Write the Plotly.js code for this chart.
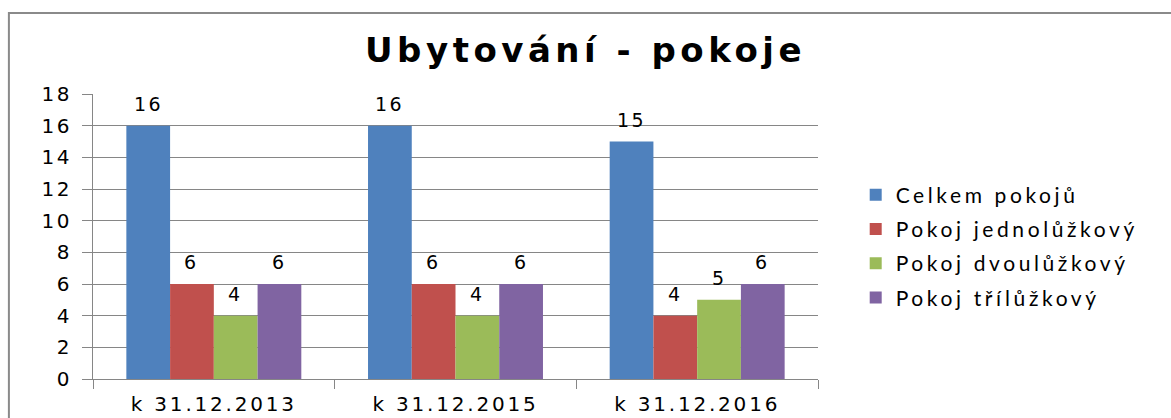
<!DOCTYPE html>
<html><head><meta charset="utf-8">
<script src="https://cdn.plot.ly/plotly-3.0.1.min.js"></script>
<style>
body{margin:0;background:#fff}
#chart{width:1171px;height:418px}
.gtitle{letter-spacing:4.5px}
.xtick text{letter-spacing:2.8px}
.ytick text{letter-spacing:2.5px}
.legendtext{letter-spacing:3.6px}
.annotation-text{letter-spacing:2.5px}
</style></head><body><div id="chart"></div><script>
const categories = ['k 31.12.2013', 'k 31.12.2015', 'k 31.12.2016'];
const celkemPokoju = [16, 16, 15];
const jednoluzkovy = [6, 6, 4];
const dvouluzkovy = [4, 4, 5];
const triluzkovy = [6, 6, 6];
const seriesNames = ['Celkem pokojů', 'Pokoj jednolůžkový', 'Pokoj dvoulůžkový', 'Pokoj třílůžkový'];
const seriesValues = [celkemPokoju, jednoluzkovy, dvouluzkovy, triluzkovy];
const colors = ['#4F81BD', '#C0504D', '#9BBB59', '#8064A2'];

const traces = seriesValues.map((vals, i) => ({
  type: 'bar',
  name: seriesNames[i],
  x: categories,
  y: vals,
  marker: {color: colors[i]},
  legendgroup: 'g' + i,
  hoverinfo: 'x+y+name'
}));

const layout = {
  width: 1171, height: 418,
  margin: {l: 93, r: 353, t: 94, b: 39},
  paper_bgcolor: '#fff', plot_bgcolor: '#fff',
  barmode: 'group', bargap: 0.276, bargroupgap: 0,
  title: {
    text: '<b>Ubytování - pokoje</b>',
    font: {family: 'DejaVu Sans', size: 34, color: '#000'},
    xref: 'container', x: 0.5, xanchor: 'center',
    yref: 'container', y: 0.88, yanchor: 'middle'
  },
  xaxis: {
    type: 'category',
    showline: true, linecolor: '#868686', linewidth: 1,
    ticks: 'outside', tickson: 'boundaries', ticklen: 9, tickcolor: '#868686',
    ticklabelstandoff: 7,
    tickfont: {family: 'DejaVu Sans', size: 20, color: '#000'},
    showgrid: false
  },
  yaxis: {
    range: [0, 18], dtick: 2, tick0: 0,
    showline: true, linecolor: '#868686', linewidth: 1,
    ticks: 'outside', ticklen: 10, tickcolor: '#868686',
    ticklabelstandoff: 6,
    tickfont: {family: 'DejaVu Sans', size: 20, color: '#000'},
    showgrid: true, gridcolor: '#868686', gridwidth: 1,
    zeroline: false
  },
  legend: {
    x: 1.052, xanchor: 'left', y: 0.465, yanchor: 'middle',
    font: {family: 'Lato', size: 21, color: '#000'},
    traceorder: 'grouped', tracegroupgap: 4,
    bgcolor: 'rgba(0,0,0,0)'
  },
  shapes: [{
    type: 'rect', xref: 'paper', yref: 'paper',
    x0: -0.116, x1: 1.7, y0: -0.4, y1: 1.284,
    line: {color: '#8a8a8a', width: 2}, fillcolor: 'rgba(0,0,0,0)', layer: 'below'
  }],
  showlegend: true
};

const gd = document.getElementById('chart');
Plotly.newPlot(gd, traces, layout, {displayModeBar: false, staticPlot: true}).then(() => {
  // value labels placed at the bar centres computed by Plotly itself
  const annotations = [];
  gd.calcdata.forEach(cd => {
    cd.forEach(d => {
      annotations.push({
        xref: 'x', yref: 'y', x: d.x, y: d.y,
        text: String(d.s), showarrow: false,
        xanchor: 'center', yanchor: 'bottom', yshift: 9,
        font: {family: 'DejaVu Sans', size: 19, color: '#000'}
      });
    });
  });
  return Plotly.relayout(gd, {annotations: annotations});
});
</script></body></html>
